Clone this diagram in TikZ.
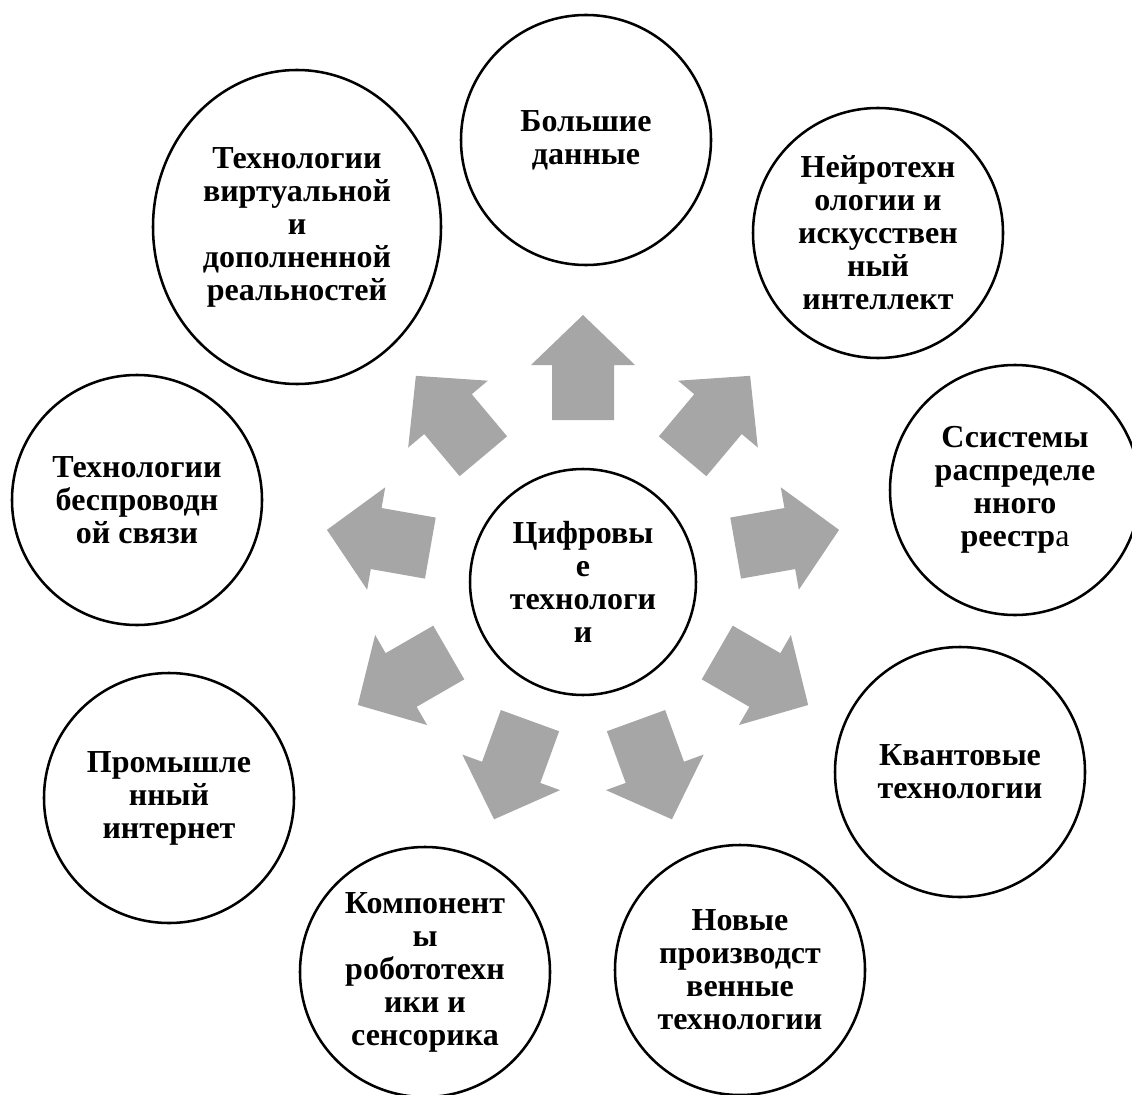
\documentclass[tikz,border=0pt]{standalone}
\usepackage{fontspec}
\setmainfont{Liberation Serif}
\usetikzlibrary{shapes.geometric}
\definecolor{arrowgray}{RGB}{166,166,166}
\begin{document}
\begin{tikzpicture}[x=0.75pt, y=0.75pt,
  bubble/.style={circle, draw=black, line width=1.9pt, fill=white,
    minimum size=187.5pt, inner sep=0pt, align=center,
    font=\fontsize{24}{24.75}\selectfont\bfseries},
  hubbox/.style={bubble, minimum size=169.5pt},
  ovalbox/.style={bubble, ellipse, minimum width=216pt, minimum height=235.5pt},
  blockarrow/.style={fill=arrowgray, draw=none}]
\useasboundingbox (0,0) rectangle (1132,-1095);

% outward block arrows around the hub
\coordinate (ring) at (583,-575);
\foreach \a in {90,50,10,-30,-70,-110,-150,170,130}
  \fill[blockarrow, shift={(ring)}, rotate=\a]
    (155,-31) -- (210,-31) -- (210,-52) -- (260,0) -- (210,52) -- (210,31) -- (155,31) -- cycle;

% hub
\node[hubbox] (hub) at (583,-582) {Цифровы\\е\\технологи\\и};

% surrounding technologies
\node[bubble] (bigdata) at (586,-140) {Большие\\данные};
\node[bubble] (neuro) at (878,-233) {Нейротехн\\ологии и\\искусствен\\ный\\интеллект};
\node[bubble] (ledger) at (1015,-490) {Ссистемы\\распределе\\нного\\реестр{\mdseries а}};
\node[bubble] (quantum) at (960,-772) {Квантовые\\технологии};
\node[bubble] (newprod) at (740,-970) {Новые\\производст\\венные\\технологии};
\node[bubble] (robots) at (425,-972) {Компонент\\ы\\робототехн\\ики и\\сенсорика};
\node[bubble] (iiot) at (169,-798) {Промышле\\нный\\интернет};
\node[bubble] (wireless) at (137,-500) {Технологии\\беспроводн\\ой связи};
\node[ovalbox] (vrar) at (297,-227) {Технологии\\виртуальной\\и\\дополненной\\реальностей};
\end{tikzpicture}
\end{document}
